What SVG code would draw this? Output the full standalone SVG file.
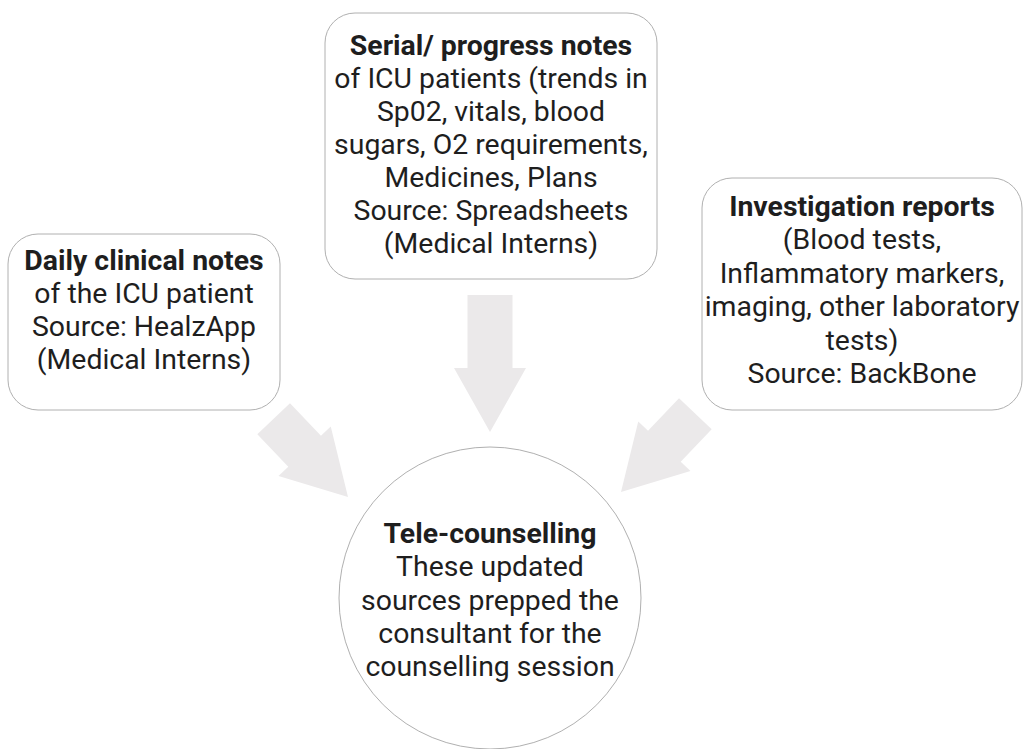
<svg xmlns="http://www.w3.org/2000/svg" width="1027" height="749" viewBox="0 0 1027 749">
<style>
.box{fill:#ffffff;stroke:#b0b0b0;stroke-width:1}
.arr{fill:#ebe9ea}
text{font-family:Roboto,"Liberation Sans",sans-serif;font-size:28.4px;fill:#1e1e1e;text-anchor:middle}
.b{font-weight:bold}
</style>
<rect width="1027" height="749" fill="#ffffff"/>
<g id="connectors">
<path class="arr" transform="translate(348,497) rotate(46.5)" d="M -108,-22.5 L -63,-22.5 L -63,-36 L 0,0 L -63,36 L -63,22.5 L -108,22.5 Z"/>
<path class="arr" transform="translate(490,432) rotate(90)" d="M -137,-22.5 L -64,-22.5 L -64,-36 L 0,0 L -64,36 L -64,22.5 L -137,22.5 Z"/>
<path class="arr" transform="translate(621,492) rotate(133.5)" d="M -108,-22.5 L -63,-22.5 L -63,-36 L 0,0 L -63,36 L -63,22.5 L -108,22.5 Z"/>
</g>
<g id="daily">
<rect class="box" x="8" y="234" width="272" height="176" rx="30"/>
<text x="144" y="270"><tspan class="b">Daily clinical notes</tspan><tspan x="144" dy="33">of the ICU patient</tspan><tspan x="144" dy="33">Source: HealzApp</tspan><tspan x="144" dy="33">(Medical Interns)</tspan></text>
</g>
<g id="serial">
<rect class="box" x="325" y="13" width="332" height="266" rx="30"/>
<text x="491" y="55"><tspan class="b">Serial/ progress notes</tspan><tspan x="491" dy="33">of ICU patients (trends in</tspan><tspan x="491" dy="33">Sp02, vitals, blood</tspan><tspan x="491" dy="33">sugars, O2 requirements,</tspan><tspan x="491" dy="33">Medicines, Plans</tspan><tspan x="491" dy="33">Source: Spreadsheets</tspan><tspan x="491" dy="33">(Medical Interns)</tspan></text>
</g>
<g id="investigation">
<rect class="box" x="702" y="178" width="320" height="232" rx="30"/>
<text x="862" y="216"><tspan class="b">Investigation reports</tspan><tspan x="862" dy="33.4">(Blood tests,</tspan><tspan x="862" dy="33.4">Inflammatory markers,</tspan><tspan x="862" dy="33.4">imaging, other laboratory</tspan><tspan x="862" dy="33.4">tests)</tspan><tspan x="862" dy="33.4">Source: BackBone</tspan></text>
</g>
<g id="tele">
<circle class="box" cx="490" cy="598" r="151"/>
<text x="490" y="543"><tspan class="b">Tele-counselling</tspan><tspan x="490" dy="33.3">These updated</tspan><tspan x="490" dy="33.3">sources prepped the</tspan><tspan x="490" dy="33.3">consultant for the</tspan><tspan x="490" dy="33.3">counselling session</tspan></text>
</g>
</svg>
